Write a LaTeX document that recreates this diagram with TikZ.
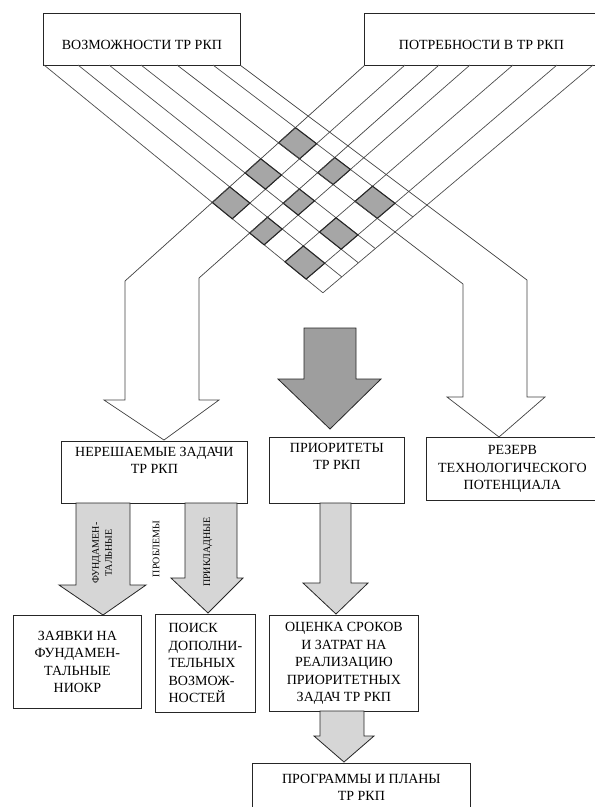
\documentclass[tikz,border=0pt]{standalone}
\usepackage{fontspec}
\setmainfont{Liberation Serif}

\tikzset{
  box/.style={draw=black!85, line width=0.8pt, inner sep=2pt, align=center,
    font=\fontsize{14pt}{17.5pt}\selectfont},
  intext/.style={anchor=north, align=center, inner sep=6pt,
    font=\fontsize{14pt}{17.5pt}\selectfont},
  grid/.style={draw=black!70, line width=0.7pt},
  cell/.style={fill=black!35, draw=black!85, line width=1.1pt},
  hollow/.style={draw=black!75, line width=0.7pt},
  bigarrow/.style={fill=black!38, draw=black!85, line width=0.8pt},
  smallarrow/.style={fill=black!16, draw=black!85, line width=0.8pt},
  vlabel/.style={rotate=90, align=center, inner sep=0pt,
    font=\fontsize{10pt}{13pt}\selectfont}
}

\begin{document}
\begin{tikzpicture}[x=1pt,y=-1pt]
  \useasboundingbox (0,0) rectangle (595,807);

  % top boxes
  \node[box, minimum width=197pt, minimum height=52pt, anchor=north west, text height=20pt]
    (vozm) at (43,13) {ВОЗМОЖНОСТИ ТР РКП};
  \node[box, minimum width=234pt, minimum height=52pt, anchor=north west, text height=20pt]
    (potr) at (364,13) {ПОТРЕБНОСТИ В ТР РКП};

  % lines from the two boxes
  \foreach \n/\x/\ex/\ey in {0/240/527/280, 1/213/513/293, 2/177/463/284, 3/141/441/300,
                             4/109/409/303, 5/78/378/306, 6/44/344/310} {
    \coordinate (a\n) at (\x,65);
    \coordinate (ea\n) at (\ex,\ey);
  }
  \foreach \n/\x/\ex/\ey in {0/365/125/281, 1/405/105/332, 2/439/199/278, 3/470/170/327,
                             4/513/213/324, 5/557/257/321, 6/593/293/318} {
    \coordinate (b\n) at (\x,65);
    \coordinate (eb\n) at (\ex,\ey);
  }
  \foreach \i in {0,...,6}
    \foreach \j in {0,...,6}
      \coordinate (p\i-\j) at (intersection cs: first line={(a\i)--(ea\i)},
                                                second line={(b\j)--(eb\j)});
  \foreach \n in {1,3,4,5,6}
    \draw[grid] (a\n) -- (p\n-6);
  \foreach \n in {1,3,4,5,6}
    \draw[grid] (b\n) -- (p6-\n);

  % shaded cells
  \foreach \i in {1,3,5}
    \foreach \j in {0,2,4} {
      \pgfmathtruncatemacro\ii{\i+1}
      \pgfmathtruncatemacro\jj{\j+1}
      \filldraw[cell] (p\i-\j) -- (p\ii-\j) -- (p\ii-\jj) -- (p\i-\jj) -- cycle;
    }

  % open arrows fed by the lines
  \draw[hollow] (b0) -- (eb0) -- (125,400) -- (104,400) -- (164,440) -- (219,400)
    -- (199,400) -- (eb2) -- (b2);
  \draw[hollow] (a2) -- (ea2) -- (463,397) -- (447,397) -- (499,437) -- (545,397)
    -- (527,397) -- (ea0) -- (a0);
  \draw[bigarrow] (304,328) -- (356,328) -- (356,379) -- (381,379) -- (330,429)
    -- (278,379) -- (304,379) -- cycle;

  % middle row
  \node[box, minimum width=186pt, minimum height=62pt, anchor=north west,
    label={[intext]north:НЕРЕШАЕМЫЕ ЗАДАЧИ\\ТР РКП}] (zadachi) at (61,441) {};
  \node[box, minimum width=135pt, minimum height=66pt, anchor=north west,
    label={[intext]north:ПРИОРИТЕТЫ\\ТР РКП}] (prior) at (269,437) {};
  \node[box, minimum width=172pt, minimum height=63pt, anchor=north west]
    (rezerv) at (426,437) {РЕЗЕРВ\\ТЕХНОЛОГИЧЕСКОГО\\ПОТЕНЦИАЛА};

  % arrows down to the lower boxes
  \draw[smallarrow] (76,503) -- (130,503) -- (130,585) -- (146,585) -- (103,615)
    -- (59,585) -- (76,585) -- cycle;
  \draw[smallarrow] (185,503) -- (237,503) -- (237,578) -- (243,578) -- (208,613)
    -- (171,578) -- (185,578) -- cycle;
  \draw[smallarrow] (320,503) -- (351,503) -- (351,583) -- (368,583) -- (336,614)
    -- (303,583) -- (320,583) -- cycle;
  \node[vlabel] (fund) at (102,553) {ФУНДАМЕН-\\ТАЛЬНЫЕ};
  \node[vlabel] (probl) at (156,549) {ПРОБЛЕМЫ};
  \node[vlabel] (prikl) at (208,552) {ПРИКЛАДНЫЕ};

  % lower row
  \node[box, minimum width=128pt, minimum height=93pt, anchor=north west]
    (zayavki) at (13,615) {ЗАЯВКИ НА\\ФУНДАМЕН-\\ТАЛЬНЫЕ\\НИОКР};
  \node[box, minimum width=100pt, minimum height=98pt, anchor=north west, align=left]
    (poisk) at (155,614) {ПОИСК\\ДОПОЛНИ-\\ТЕЛЬНЫХ\\ВОЗМОЖ-\\НОСТЕЙ};
  \node[box, minimum width=149pt, minimum height=96pt, anchor=north west]
    (ocenka) at (269,615) {ОЦЕНКА СРОКОВ\\И ЗАТРАТ НА\\РЕАЛИЗАЦИЮ\\ПРИОРИТЕТНЫХ\\ЗАДАЧ ТР РКП};

  \draw[smallarrow] (320,711) -- (364,711) -- (364,736) -- (374,736) -- (344,762)
    -- (314,736) -- (320,736) -- cycle;
  \node[box, minimum width=218pt, minimum height=48pt, anchor=north west]
    (progr) at (252,763) {ПРОГРАММЫ И ПЛАНЫ\\ТР РКП};
\end{tikzpicture}
\end{document}
